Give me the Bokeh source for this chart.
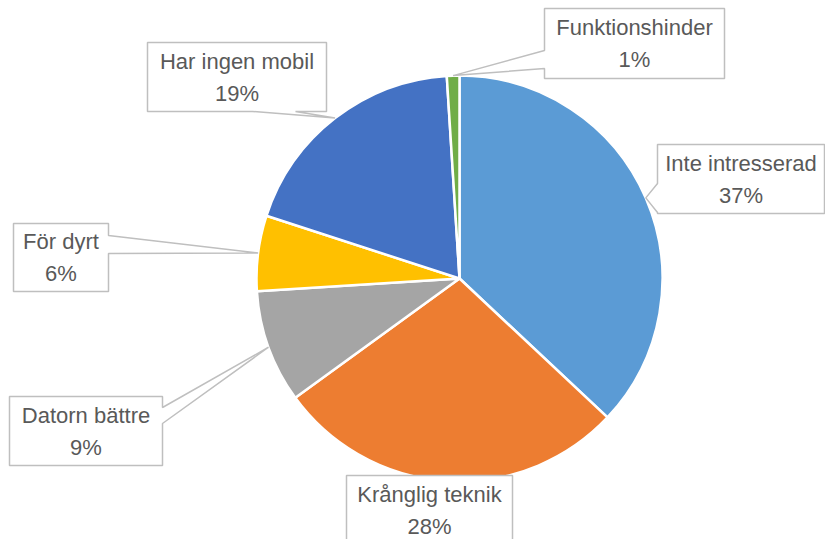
import numpy as np
from bokeh.plotting import figure
from bokeh.models import Range1d, ColumnDataSource
from bokeh.core.properties import value
from bokeh.embed import file_html
from bokeh.resources import INLINE

# ---- data ----
categories = ["Inte intresserad", "Krånglig teknik", "Datorn bättre",
              "För dyrt", "Har ingen mobil", "Funktionshinder"]
values = [37, 28, 9, 6, 19, 1]
colors = ["#5B9BD5", "#ED7D31", "#A5A5A5", "#FFC000", "#4472C4", "#70AD47"]

# ---- layout (image pixel coords, y downward) ----
W, H = 825, 539
CX, CY, R = 459, 278, 203
# label boxes: left, top, right, bottom, pointer side, pointer span
boxes = {
    "Inte intresserad": (657, 144, 824, 213, "left", (183, 212)),
    "Krånglig teknik": (346, 475, 512, 560, None, None),
    "Datorn bättre": (9, 396, 162, 465, "right", (407, 423)),
    "För dyrt": (13, 223, 108, 291, "right", (235, 253)),
    "Har ingen mobil": (147, 42, 326, 111, "bottom", (252, 295)),
    "Funktionshinder": (544, 8, 724, 78, "left", (50, 68)),
}

vals = np.array(values, dtype=float)
frac = vals / vals.sum()
cum = np.concatenate([[0], np.cumsum(frac)])
start = np.pi / 2 - 2 * np.pi * cum[1:]
end = np.pi / 2 - 2 * np.pi * cum[:-1]
mid = (cum[:-1] + cum[1:]) / 2  # fraction clockwise from top

p = figure(width=W, height=H, output_backend="svg", toolbar_location=None,
           x_range=Range1d(0, W), y_range=Range1d(0, H), min_border=0)
p.axis.visible = False
p.grid.visible = False
p.outline_line_color = None
p.background_fill_color = "white"
p.border_fill_color = "white"

src = ColumnDataSource(dict(start=start, end=end, color=colors, cat=categories))
p.wedge(x=CX, y=H - CY, radius=R, start_angle="start", end_angle="end",
        fill_color="color", line_color="white", line_width=2.5, source=src)

xs_list, ys_list = [], []
tx, ty1, ty2, t1, t2 = [], [], [], [], []
for i, cat in enumerate(categories):
    l, t, r, b, side, span = boxes[cat]
    ang = 2 * np.pi * mid[i]
    tipx = CX + R * np.sin(ang)
    tipy = CY - R * np.cos(ang)
    pts = [(l, t), (r, t)]
    if side == "right":
        pts += [(r, span[0]), (tipx, tipy), (r, span[1])]
    pts += [(r, b)]
    if side == "bottom":
        pts += [(span[1], b), (tipx, tipy), (span[0], b)]
    pts += [(l, b)]
    if side == "left":
        pts += [(l, span[1]), (tipx, tipy), (l, span[0])]
    xs_list.append([q[0] for q in pts])
    ys_list.append([H - q[1] for q in pts])
    cx = (l + r) / 2
    cy = (t + min(b, t + 69)) / 2
    tx.append(cx)
    ty1.append(H - (cy - 16))
    ty2.append(H - (cy + 16))
    t1.append(cat)
    t2.append(f"{values[i]}%")

p.patches(xs=xs_list, ys=ys_list, fill_color="white", line_color="#BFBFBF",
          line_width=1.5)
p.text(x=tx, y=ty1, text=t1, text_align="center", text_baseline="middle",
       text_font=value("Liberation Sans"), text_font_size="22px", text_color="#595959")
p.text(x=tx, y=ty2, text=t2, text_align="center", text_baseline="middle",
       text_font=value("Liberation Sans"), text_font_size="22px", text_color="#595959")

open("out.html", "w").write(file_html(p, INLINE))
